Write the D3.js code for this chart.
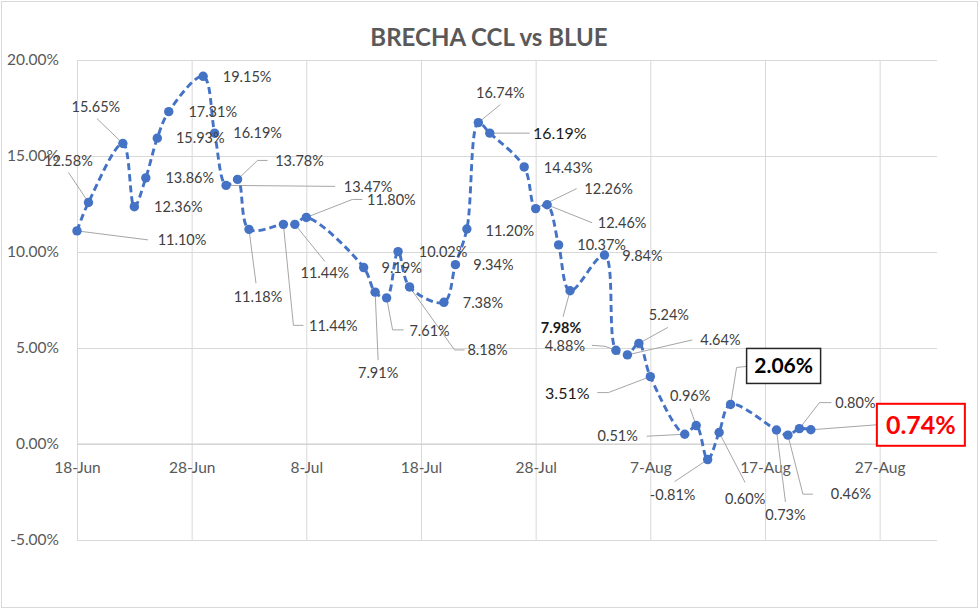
<!DOCTYPE html>
<html><head><meta charset="utf-8">
<script src="https://cdn.jsdelivr.net/npm/d3@7"></script>
<style>
html,body{margin:0;padding:0;background:#fff;}
svg{display:block;font-family:Lato,"Open Sans",sans-serif;}
</style></head>
<body>
<svg id="c" width="980" height="613"></svg>
<script>
// ---- data ----
const title = "BRECHA CCL vs BLUE";
const dates = ["2020-06-18","2020-06-19","2020-06-22","2020-06-23","2020-06-24","2020-06-25","2020-06-26","2020-06-29","2020-06-30",
 "2020-07-01","2020-07-02","2020-07-03","2020-07-06","2020-07-07","2020-07-08","2020-07-13","2020-07-14","2020-07-15","2020-07-16","2020-07-17",
 "2020-07-20","2020-07-21","2020-07-22","2020-07-23","2020-07-24","2020-07-27","2020-07-28","2020-07-29","2020-07-30","2020-07-31",
 "2020-08-03","2020-08-04","2020-08-05","2020-08-06","2020-08-07","2020-08-10","2020-08-11","2020-08-12","2020-08-13","2020-08-14",
 "2020-08-18","2020-08-19","2020-08-20","2020-08-21"];
const brecha = [11.10,12.58,15.65,12.36,13.86,15.93,17.31,19.15,16.19,
 13.47,13.78,11.18,11.44,11.44,11.80,9.19,7.91,7.61,10.02,8.18,
 7.38,9.34,11.20,16.74,16.19,14.43,12.26,12.46,10.37,7.98,
 9.84,4.88,4.64,5.24,3.51,0.51,0.96,-0.81,0.60,2.06,
 0.73,0.46,0.80,0.74];
const xTicks = ["2020-06-18","2020-06-28","2020-07-08","2020-07-18","2020-07-28","2020-08-07","2020-08-17","2020-08-27"];
const yTicks = [-5,0,5,10,15,20];

// ---- label layout (offsets from each point; style keys) ----
const layout = [
 [105,9,[[71,9]]],[-20,-42,[[-20,-30]]],[-27,-37,[[-26,-25]]],[44,0],[44,0],[43,0],[44,0],[44,0],[43,0],
 [142,1,[[109,1]]],[62,-19,[[20,-19],[30,-19]]],[9,67,[[7,54]]],[50,101,[[10,101],[20,101]]],[30,48,[[30,37]]],[85,-18,[[46,-18],[56,-18]]],
 [38,0],[3,81,[[3,68]]],[43,33,[[6,32],[17,32]]],[45,0],[78,63,[[45,63],[55,63]]],
 [39,0],[38,0],[43,2],[22,-30,[[22,-18]]],[70,0,[[40,0]],"big"],[44,1],[73,-20,[[41,-20]]],[75,18,[[45,18]]],[43,0],[-9,37,[[-7,26]],"dark"],
 [38,1],[-51,-5,[[-11,-4],[-24,-5]]],[93,-15,[[65,-15]]],[30,-29,[[29,-16]]],[-83,17,[[-42,16],[-53,16]],"big"],[-67,2,[[-38,2]]],[-6,-30,[[-6,-17]]],[-35,35,[[-33,22]]],[26,66,[[26,50]]],[53,-39,[[6,-37],[16,-38]],"box"],
 [9,85,[[9,72]]],[63,59,[[15,59],[25,59]]],[56,-26,[[20,-26],[32,-26]]],[110,-5,[[66,-5]],"red"]
];

const parse = d3.timeParse("%Y-%m-%d");
const data = dates.map((d,i)=>({date:parse(d), v:brecha[i]}));
const svg = d3.select("#c");
const L=77, R=937, T=60, B=540;
const x = d3.scaleTime().domain([parse("2020-06-18"), parse("2020-09-01")]).range([L,R]);
const y = d3.scaleLinear().domain([-5,20]).range([B,T]);

// outer border
svg.append("rect").attr("x",1.5).attr("y",1.5).attr("width",976).attr("height",606)
  .attr("fill","#fff").attr("stroke","#d9d9d9");

// title
svg.append("text").attr("x",489).attr("y",46).attr("text-anchor","middle")
  .attr("font-size",24).attr("font-weight","bold").attr("fill","#595959").text(title);

// gridlines
const gy = svg.append("g").attr("transform",`translate(${L},0)`)
  .call(d3.axisLeft(y).tickValues(yTicks).tickSize(-(R-L)).tickFormat(d=>d.toFixed(2)+"%"));
gy.select(".domain").remove();
gy.selectAll("line").attr("stroke","#d9d9d9");
gy.selectAll("text").attr("x",-18).attr("font-size",15.5).attr("fill","#595959").attr("font-family","Lato");

const gx = svg.append("g").attr("transform",`translate(0,${B})`)
  .call(d3.axisBottom(x).tickValues(xTicks.map(parse)).tickSize(-(B-T)).tickFormat(d3.timeFormat("%-d-%b")));
gx.select(".domain").remove();
gx.selectAll("line").attr("stroke","#d9d9d9");
gx.selectAll("text").attr("font-size",15.5).attr("fill","#595959").attr("font-family","Lato")
  .attr("y",0).attr("dy",0).attr("transform",`translate(0,${y(0)-B+29})`);

// zero line slightly darker
svg.append("line").attr("x1",L).attr("x2",R).attr("y1",y(0)).attr("y2",y(0)).attr("stroke","#cfcfcf");

// leader lines
const leaders = svg.append("g");
data.forEach((d,i)=>{
  const lay = layout[i];
  if(!lay[2]) return;
  const px=x(d.date), py=y(d.v);
  const pts=[[px,py]].concat(lay[2].map(o=>[px+o[0],py+o[1]]));
  leaders.append("path").attr("d",d3.line()(pts)).attr("fill","none").attr("stroke","#a6a6a6").attr("stroke-width",1);
});

// series line
svg.append("path").datum(data)
  .attr("d", d3.line().x(d=>x(d.date)).y(d=>y(d.v)).curve(d3.curveCatmullRom.alpha(0.5)))
  .attr("fill","none").attr("stroke","#4472C4").attr("stroke-width",2.9).attr("stroke-dasharray","7,4");

svg.append("g").selectAll("circle").data(data).join("circle")
  .attr("cx",d=>x(d.date)).attr("cy",d=>y(d.v)).attr("r",4.7).attr("fill","#4472C4");

// labels
const lg = svg.append("g");
data.forEach((d,i)=>{
  const lay=layout[i];
  const cx=x(d.date)+lay[0], cy=y(d.v)+lay[1];
  const txt=d.v.toFixed(2)+"%";
  const kind=lay[3];
  if(kind==="box"){
    lg.append("rect").attr("x",cx-37).attr("y",cy-17).attr("width",74).attr("height",35)
      .attr("fill","#fff").attr("stroke","#262626").attr("stroke-width",1.5);
    lg.append("text").attr("x",cx).attr("y",cy).attr("dy","0.36em").attr("text-anchor","middle")
      .attr("font-size",21).attr("font-weight","bold").attr("fill","#000").text(txt);
  } else if(kind==="red"){
    lg.append("rect").attr("x",cx-44).attr("y",cy-21).attr("width",88).attr("height",42)
      .attr("fill","#fff").attr("stroke","#ff0000").attr("stroke-width",2);
    lg.append("text").attr("x",cx).attr("y",cy).attr("dy","0.36em").attr("text-anchor","middle")
      .attr("font-size",25).attr("font-weight","bold").attr("fill","#ff0000").text(txt);
  } else {
    lg.append("text").attr("x",cx).attr("y",cy).attr("dy","0.36em").attr("text-anchor","middle")
      .attr("font-size", kind==="big"?16:14.5)
      .attr("fill", kind==="big"||kind==="dark" ? "#1a1a1a" : "#404040")
      .attr("font-weight", kind==="dark" ? "bold" : "normal")
      .text(txt);
  }
});
</script>
</body></html>
